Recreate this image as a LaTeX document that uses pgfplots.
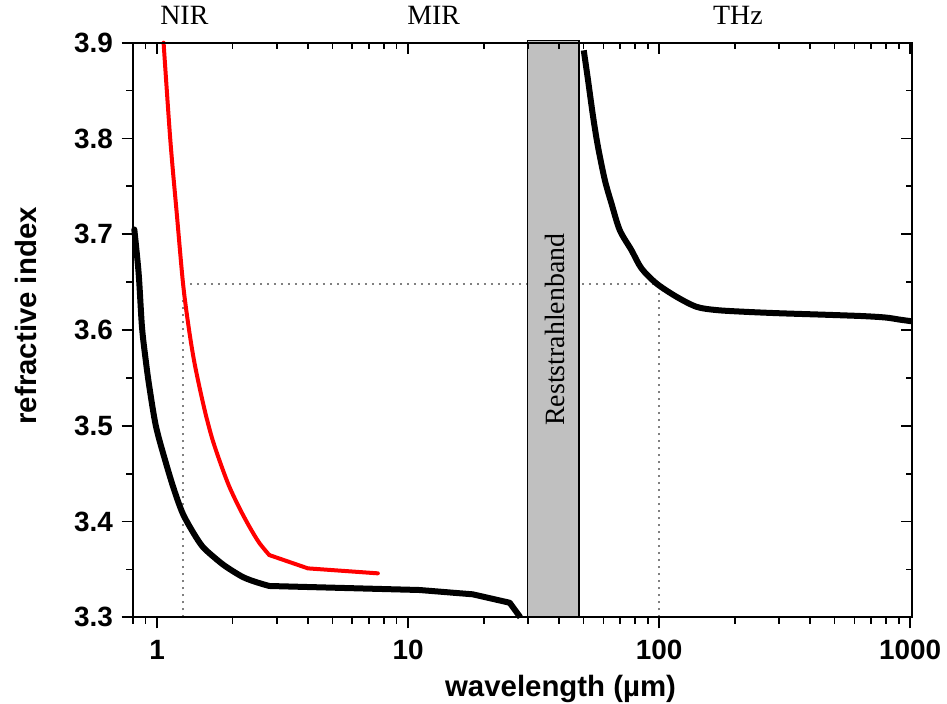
\documentclass[border=0pt]{standalone}
\usepackage{fontspec}
\setmainfont{Liberation Serif}
\newfontfamily\arial{Liberation Sans}
\usepackage{pgfplots}
\pgfplotsset{compat=1.18}
\usetikzlibrary{calc}
\definecolor{bandgray}{RGB}{192,192,192}
\definecolor{dotgray}{RGB}{128,128,128}
\begin{document}
\begin{tikzpicture}
\begin{axis}[xmode=log, scale only axis, width=779.6bp, height=574.6bp,
  xmin=0.8, xmax=1020, ymin=3.3, ymax=3.9,
  axis line style={line width=1.8bp},
  major tick length=11bp, minor tick length=6.5bp,
  every tick/.style={line width=1.8bp, black},
  xtick={1,10,100,1000},
  minor xtick={0.8,0.9,2,3,4,5,6,7,8,9,20,30,40,50,60,70,80,90,200,300,400,500,600,700,800,900},
  ytick={3.3,3.4,3.5,3.6,3.7,3.8,3.9},
  minor ytick={3.35,3.45,3.55,3.65,3.75,3.85},
  clip=false, tick align=outside,
  xtick pos=left, ytick pos=left,
  xticklabels={1,10,100,1000},
  yticklabels={3.3,3.4,3.5,3.6,3.7,3.8,3.9},
  ticklabel style={font=\arial\bfseries\fontsize{28}{28}\selectfont},
  xticklabel style={anchor=base, inner sep=0pt, yshift=-31bp},
  yticklabel style={anchor=east, inner sep=0pt, xshift=-8.7bp}]
\coordinate (SW) at (rel axis cs:0,0);
\coordinate (NE) at (rel axis cs:1,1);
\coordinate (XL) at (axis cs:40.5,3.3);
\coordinate (YL) at (axis cs:0.8,3.6148);
\coordinate (NIR) at (axis cs:1.285,3.9);
\coordinate (MIR) at (axis cs:12.64,3.9);
\coordinate (THZ) at (axis cs:206,3.9);
\coordinate (RB) at (axis cs:42.1,3.6004);
\addplot[dotgray, line width=1.3bp, dash pattern=on 2.5bp off 4.5bp] coordinates {(1.268,3.3) (1.268,3.648)};
\addplot[dotgray, line width=1.3bp, dash pattern=on 2.5bp off 4.5bp] coordinates {(1.268,3.648) (100,3.648)};
\addplot[dotgray, line width=1.3bp, dash pattern=on 2.5bp off 4.5bp] coordinates {(100,3.3) (100,3.648)};
\addplot[fill=bandgray, draw=black, line width=1.3bp] coordinates {(30,3.3) (30,3.902) (48,3.902) (48,3.3) (30,3.3)};
% red curve: smooth dispersion part, then straight segments
\addplot[red, line width=4bp, smooth, tension=0.5, line cap=round] coordinates {
(1.062,3.9) (1.13,3.798) (1.20,3.72) (1.27,3.648) (1.336,3.6033)
(1.40,3.57) (1.475,3.5407) (1.566,3.511) (1.666,3.485) (1.80,3.459) (1.942,3.4363)
(2.13,3.414) (2.334,3.3946) (2.55,3.378) (2.80,3.365)};
\addplot[red, line width=4bp, line join=round, line cap=round] coordinates {
(2.80,3.365) (3.99,3.3511) (7.58,3.3459)};
% black curve NIR/MIR
\addplot[black, line width=6bp, smooth, tension=0.5, line cap=round] coordinates {
(0.812,3.705) (0.845,3.659) (0.871,3.6033) (0.90,3.570)
(0.932,3.5407) (0.991,3.499) (1.086,3.4608) (1.17,3.433) (1.265,3.4086) (1.39,3.389)
(1.52,3.3737) (1.70,3.362) (1.884,3.3528) (2.2,3.342) (2.5,3.3365) (2.80,3.3327)};
\addplot[black, line width=6bp, line join=round] coordinates {
(2.80,3.3327) (11.1,3.3285) (18.1,3.324) (25.4,3.3152) (28.0,3.3)};
% black curve THz
\addplot[black, line width=6bp, smooth, tension=0.5] coordinates {
(50.1,3.892) (52.1,3.861) (54.6,3.8225) (57.1,3.7912) (60.8,3.7565) (64.6,3.7322)
(69.7,3.7043) (77.6,3.6834) (85.1,3.6643) (97.6,3.6486) (117.3,3.6347) (141,3.6242)
(169.3,3.6208) (220,3.619) (300,3.6175) (450,3.616) (650,3.6145) (800,3.613)
(900,3.611) (1020,3.609)};
\end{axis}
\begin{axis}[xmode=log, scale only axis, width=779.6bp, height=574.6bp,
  xmin=0.8, xmax=1020, ymin=3.3, ymax=3.9,
  axis line style={line width=1.8bp},
  major tick length=11bp, minor tick length=6.5bp,
  every tick/.style={line width=1.8bp, black},
  xtick={1,10,100,1000},
  minor xtick={0.8,0.9,2,3,4,5,6,7,8,9,20,30,40,50,60,70,80,90,200,300,400,500,600,700,800,900},
  ytick={3.3,3.4,3.5,3.6,3.7,3.8,3.9},
  minor ytick={3.35,3.45,3.55,3.65,3.75,3.85},
  tick align=inside, xtick pos=right, ytick pos=right,
  xticklabels={}, yticklabels={}]
\end{axis}
\node[anchor=base, font=\fontsize{28}{28}\selectfont] at ([yshift=17.7bp]NIR) {NIR};
\node[anchor=base, font=\fontsize{28}{28}\selectfont] at ([yshift=17.7bp]MIR) {MIR};
\node[anchor=base, font=\fontsize{28}{28}\selectfont] at ([yshift=17.7bp]THZ) {THz};
\node[rotate=90, anchor=base, font=\fontsize{28}{28}\selectfont] at (RB) {Reststrahlenband};
\node[anchor=base, font=\arial\bfseries\fontsize{29.5}{29.5}\selectfont] at ([yshift=-78.7bp]XL) {wavelength (µm)};
\node[rotate=90, anchor=base, font=\arial\bfseries\fontsize{29.5}{29.5}\selectfont] at ([xshift=-96.2bp]YL) {refractive index};
\pgfresetboundingbox
\path ([shift={(-132.7bp,-86.7bp)}]SW) rectangle ([shift={(34.7bp,42.7bp)}]NE);
\end{tikzpicture}
\end{document}
